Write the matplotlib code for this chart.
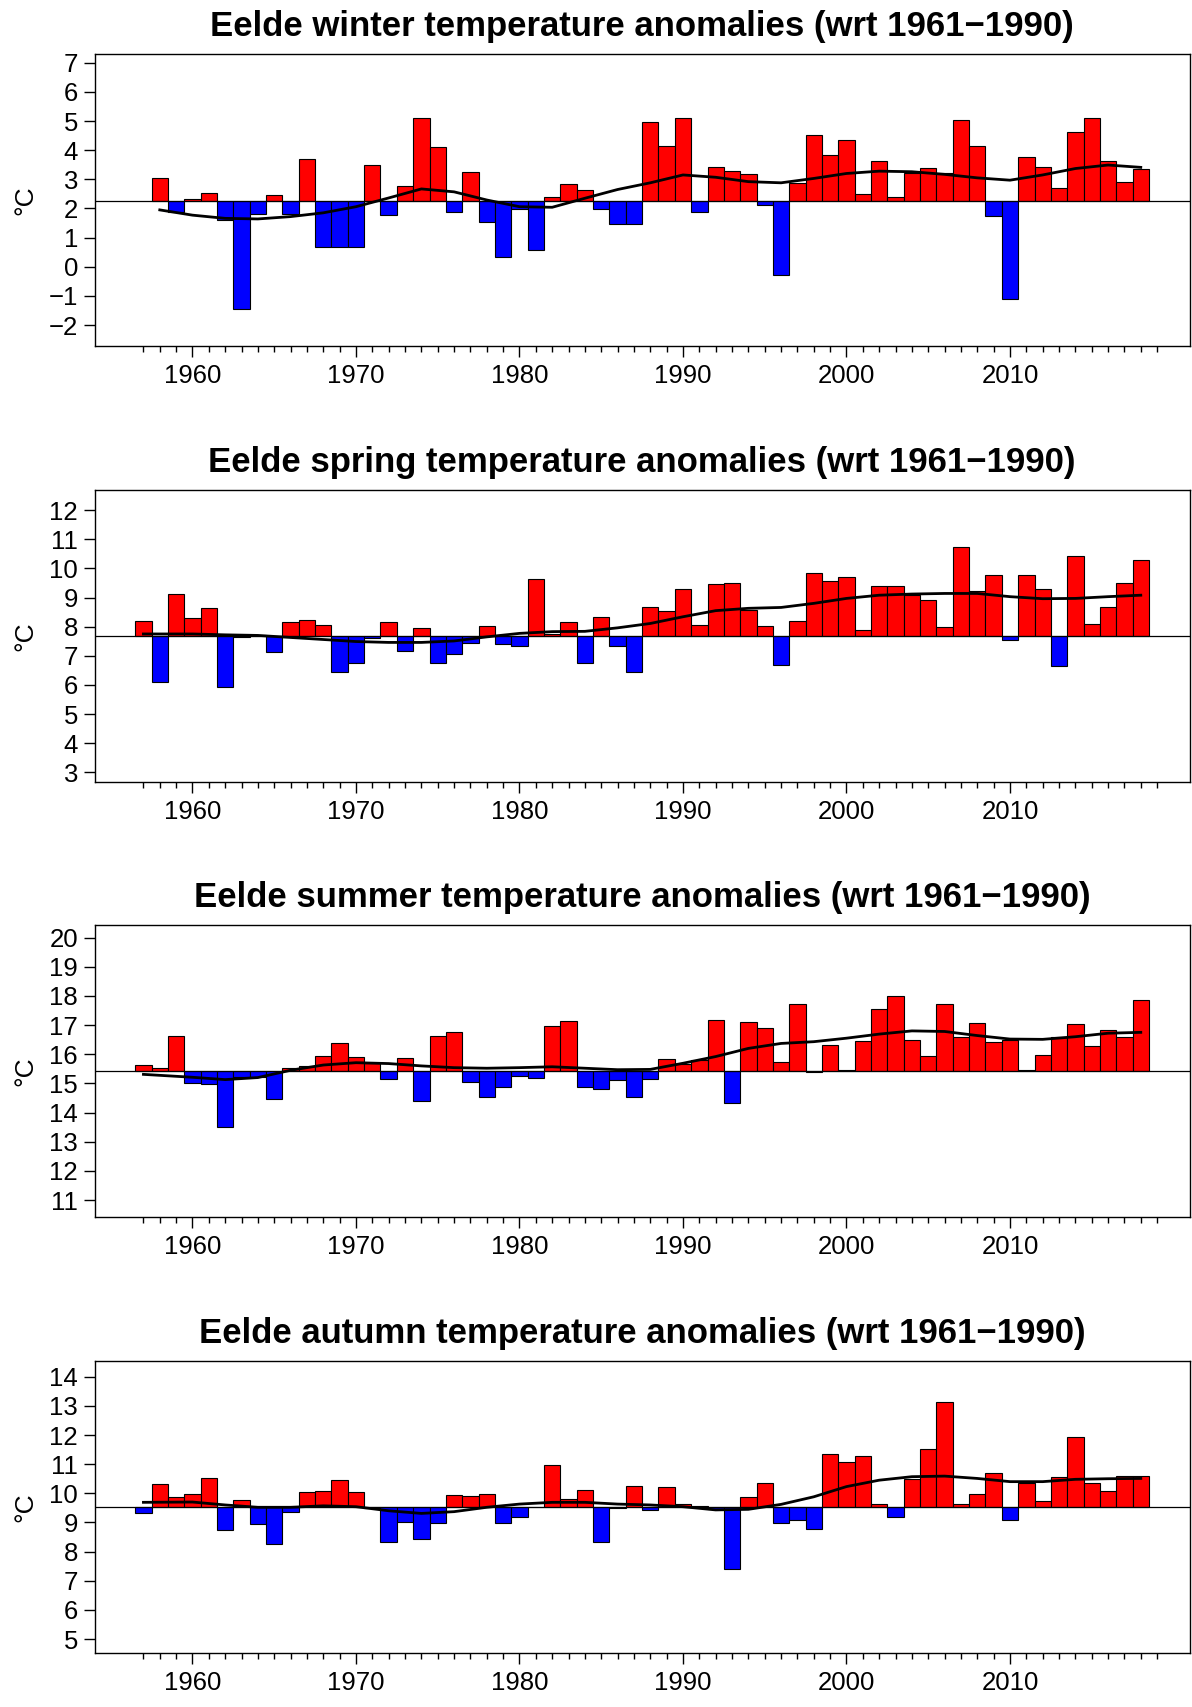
# Eelde seasonal temperature anomaly bar charts (four stacked panels)

import numpy as np
import matplotlib
matplotlib.use('Agg')
import matplotlib.pyplot as plt

plt.rcParams['font.family'] = ['Liberation Sans', 'DejaVu Sans']

# seasonal means per year, bars are drawn relative to the 1961-1990 normal
winter_years = np.arange(1958, 2019)
winter = [3.03, 1.89, 2.32, 2.52, 1.60, -1.46, 1.82, 2.46, 1.82, 3.69,
          0.66, 0.66, 0.66, 3.50, 1.79, 2.77, 5.11, 4.10, 1.89, 3.24,
          1.54, 0.33, 1.98, 0.56, 2.39, 2.85, 2.62, 1.98, 1.46, 1.46,
          4.98, 4.14, 5.10, 1.88, 3.42, 3.28, 3.18, 2.13, -0.27, 2.89,
          4.51, 3.84, 4.36, 2.51, 3.64, 2.41, 3.20, 3.40, 3.20, 5.02,
          4.13, 1.73, -1.11, 3.76, 3.42, 2.70, 4.61, 5.10, 3.63, 2.91,
          3.36]

years = np.arange(1957, 2019)
spring = [8.21, 6.11, 9.11, 8.31, 8.63, 5.94, 7.66, 7.73, 7.13, 8.17,
          8.23, 8.05, 6.46, 6.74, 7.62, 8.17, 7.15, 7.94, 6.77, 7.06,
          7.43, 8.02, 7.39, 7.32, 9.62, 7.75, 8.17, 6.77, 8.34, 7.35,
          6.46, 8.66, 8.55, 9.29, 8.07, 9.46, 9.51, 8.56, 8.02, 6.67,
          8.21, 9.83, 9.56, 9.70, 7.89, 9.39, 9.39, 9.08, 8.92, 8.00,
          10.73, 9.23, 9.77, 7.56, 9.76, 9.31, 6.65, 10.44, 8.10, 8.67,
          9.50, 10.28]

summer = [15.62, 15.54, 16.64, 15.03, 14.97, 13.49, 15.23, 15.21, 14.48, 15.54,
          15.61, 15.95, 16.37, 15.89, 15.69, 15.15, 15.86, 14.38, 16.63, 16.76,
          15.04, 14.55, 14.88, 15.24, 15.20, 16.98, 17.15, 14.88, 14.82, 15.13,
          14.55, 15.15, 15.83, 15.68, 15.79, 17.19, 14.34, 17.11, 16.89, 15.75,
          17.71, 15.40, 16.31, 15.47, 16.45, 17.55, 18.00, 16.49, 15.93, 17.71,
          16.60, 17.08, 16.43, 16.48, 15.47, 15.96, 16.59, 17.03, 16.28, 16.83,
          16.60, 17.87]

autumn = [9.31, 10.32, 9.87, 9.97, 10.53, 8.74, 9.78, 8.93, 8.25, 9.37,
          10.03, 10.07, 10.47, 10.04, 9.50, 8.32, 9.03, 8.42, 8.97, 9.94,
          9.92, 9.97, 8.97, 9.20, 9.52, 10.96, 9.80, 10.11, 8.34, 9.49,
          10.25, 9.43, 10.20, 9.63, 9.55, 9.45, 7.39, 9.88, 10.34, 8.99,
          9.08, 8.79, 11.35, 11.06, 11.28, 9.63, 9.20, 10.48, 11.53, 13.13,
          9.63, 9.99, 10.68, 9.08, 10.36, 9.75, 10.57, 11.92, 10.37, 10.09,
          10.59, 10.58]

# 1961-1990 normals
normals = {'winter': 2.27, 'spring': 7.69, 'summer': 15.43, 'autumn': 9.54}

# smoothed trend lines
winter_trend_years = np.arange(1958, 2019, 2)
winter_trend = [1.95, 1.77, 1.66, 1.64, 1.72, 1.85, 2.06, 2.36, 2.67, 2.57,
                2.29, 2.06, 2.04, 2.35, 2.65, 2.88, 3.15, 3.07, 2.92, 2.88,
                3.03, 3.20, 3.28, 3.26, 3.17, 3.05, 2.97, 3.15, 3.37, 3.49,
                3.41]

trend_years = np.concatenate([[1957], np.arange(1960, 2019, 2)])
spring_trend = [7.75, 7.75, 7.72, 7.70, 7.63, 7.56, 7.49, 7.46, 7.46, 7.51,
                7.65, 7.77, 7.83, 7.84, 7.96, 8.11, 8.34, 8.55, 8.63, 8.66,
                8.80, 8.97, 9.08, 9.12, 9.14, 9.14, 9.03, 8.96, 8.97, 9.03,
                9.08]
summer_trend = [15.31, 15.21, 15.13, 15.20, 15.45, 15.63, 15.71, 15.68, 15.60, 15.54,
                15.52, 15.54, 15.57, 15.52, 15.47, 15.48, 15.69, 15.92, 16.20, 16.37,
                16.43, 16.55, 16.69, 16.80, 16.78, 16.64, 16.52, 16.51, 16.60, 16.72,
                16.75]
autumn_trend = [9.69, 9.70, 9.60, 9.52, 9.52, 9.57, 9.54, 9.40, 9.31, 9.37,
                9.52, 9.63, 9.69, 9.69, 9.63, 9.60, 9.54, 9.43, 9.45, 9.62,
                9.88, 10.23, 10.45, 10.57, 10.59, 10.51, 10.40, 10.40, 10.48, 10.50,
                10.51]

panels = [
    ('winter', winter_years, winter, winter_trend_years, winter_trend, range(-2, 8), (-2.71, 7.29)),
    ('spring', years, spring, trend_years, spring_trend, range(3, 13), (2.66, 12.69)),
    ('summer', years, summer, trend_years, summer_trend, range(11, 21), (10.41, 20.43)),
    ('autumn', years, autumn, trend_years, autumn_trend, range(5, 15), (4.53, 14.54)),
]

W, H = 1192, 1707
fig = plt.figure(figsize=(W / 100, H / 100), dpi=100)

# panel boxes in pixels: (top, bottom)
boxes = [(54.3, 345.7), (490.0, 782.3), (925.0, 1217.3), (1361.0, 1652.7)]
left_px, right_px = 94.7, 1189.5

for (season, yrs, vals, tx, ty, yticks, ylim), (top, bot) in zip(panels, boxes):
    ax = fig.add_axes([left_px / W, 1 - bot / H, (right_px - left_px) / W, (bot - top) / H])
    base = normals[season]
    vals = np.asarray(vals)
    colors = np.where(vals > base, '#ff0000', '#0000ff')
    ax.bar(yrs, vals - base, bottom=base, width=1.0, color=colors,
           edgecolor='black', linewidth=0.8, zorder=2)
    ax.axhline(base, color='black', linewidth=0.9, zorder=3)
    ax.plot(tx, ty, color='black', linewidth=2.0, zorder=4)

    ax.set_xlim(1954.02, 2020.98)
    ax.set_ylim(*ylim)
    ax.set_xticks(range(1960, 2011, 10))
    ax.set_xticks(range(1957, 2020), minor=True)
    ax.set_yticks(list(yticks))
    ax.tick_params(axis='both', which='major', length=8, width=1.0,
                   labelsize=18.5, pad=5, colors='black')
    ax.tick_params(axis='y', which='major', pad=4)
    ax.tick_params(axis='x', which='minor', length=4.5, width=1.0)
    for sp in ax.spines.values():
        sp.set_linewidth(1.0)

    ax.set_ylabel('°C', fontsize=19)
    ax.yaxis.set_label_coords(-0.052, 0.5)
    ax.set_title(f'Eelde {season} temperature anomalies (wrt 1961\u22121990)',
                 fontsize=25, fontweight='bold', pad=13)

fig.savefig('out.png', dpi=100)
